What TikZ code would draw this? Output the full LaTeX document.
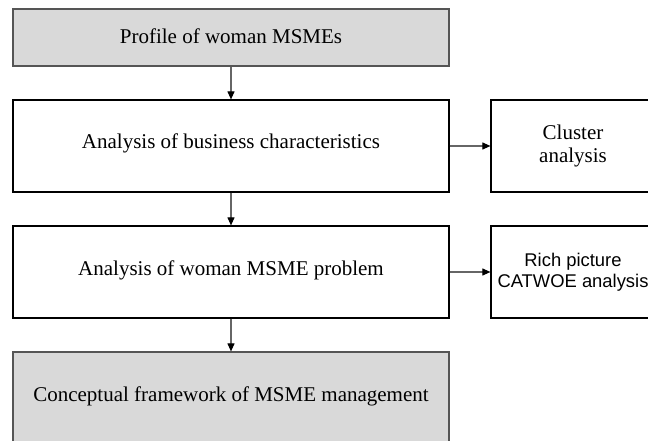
\documentclass[tikz,border=0pt]{standalone}
\usepackage{fontspec}
\setmainfont{Liberation Serif}
\newfontfamily\arialfont{Liberation Sans}
\usetikzlibrary{arrows.meta}
\definecolor{boxgray}{HTML}{D9D9D9}
\definecolor{edgegray}{HTML}{555555}
\definecolor{linegray}{HTML}{666666}
\begin{document}
\begin{tikzpicture}[x=1pt,y=-1pt,
  stage/.style={draw=black, line width=1.2pt, minimum width=436pt, inner sep=0pt,
    align=center, text height=14pt, text depth=8pt,
    font=\fontsize{21}{24}\selectfont},
  shaded/.style={stage, fill=boxgray, draw=edgegray},
  side/.style={draw=black, line width=1.2pt, minimum width=164pt, minimum height=92pt,
    inner sep=0pt, align=center},
  conn/.style={draw=linegray, line width=1.1pt,
    -{Triangle[length=8pt,width=7pt,color=black]}}]
  \useasboundingbox (0,0) rectangle (648,441);
  \clip (0,0) rectangle (648,441);
  \fill[white] (0,0) rectangle (648,441);

  % main column
  \node[shaded, minimum height=57pt, text depth=2pt] (profile) at (231,37.5) {Profile of woman MSMEs};
  \node[stage, minimum height=92pt] (business) at (231,146) {Analysis of business characteristics};
  \node[stage, minimum height=92pt] (problem) at (231,272) {Analysis of woman MSME problem};
  \node[shaded, minimum height=92pt] (framework) at (231,398) {Conceptual framework of MSME management};

  % side analyses
  \node[side, font=\fontsize{21}{23}\selectfont] (cluster) at (573,146) {Cluster\\analysis};
  \node[side, font=\arialfont\fontsize{18.4}{20.5}\selectfont] (rich) at (573,272) {Rich picture\\CATWOE analysis};

  % connectors
  \draw[conn] (profile) -- (business);
  \draw[conn] (business) -- (problem);
  \draw[conn] (problem) -- (framework);
  \draw[conn] (business.east) -- (cluster.west);
  \draw[conn] (problem.east) -- (rich.west);
\end{tikzpicture}
\end{document}
